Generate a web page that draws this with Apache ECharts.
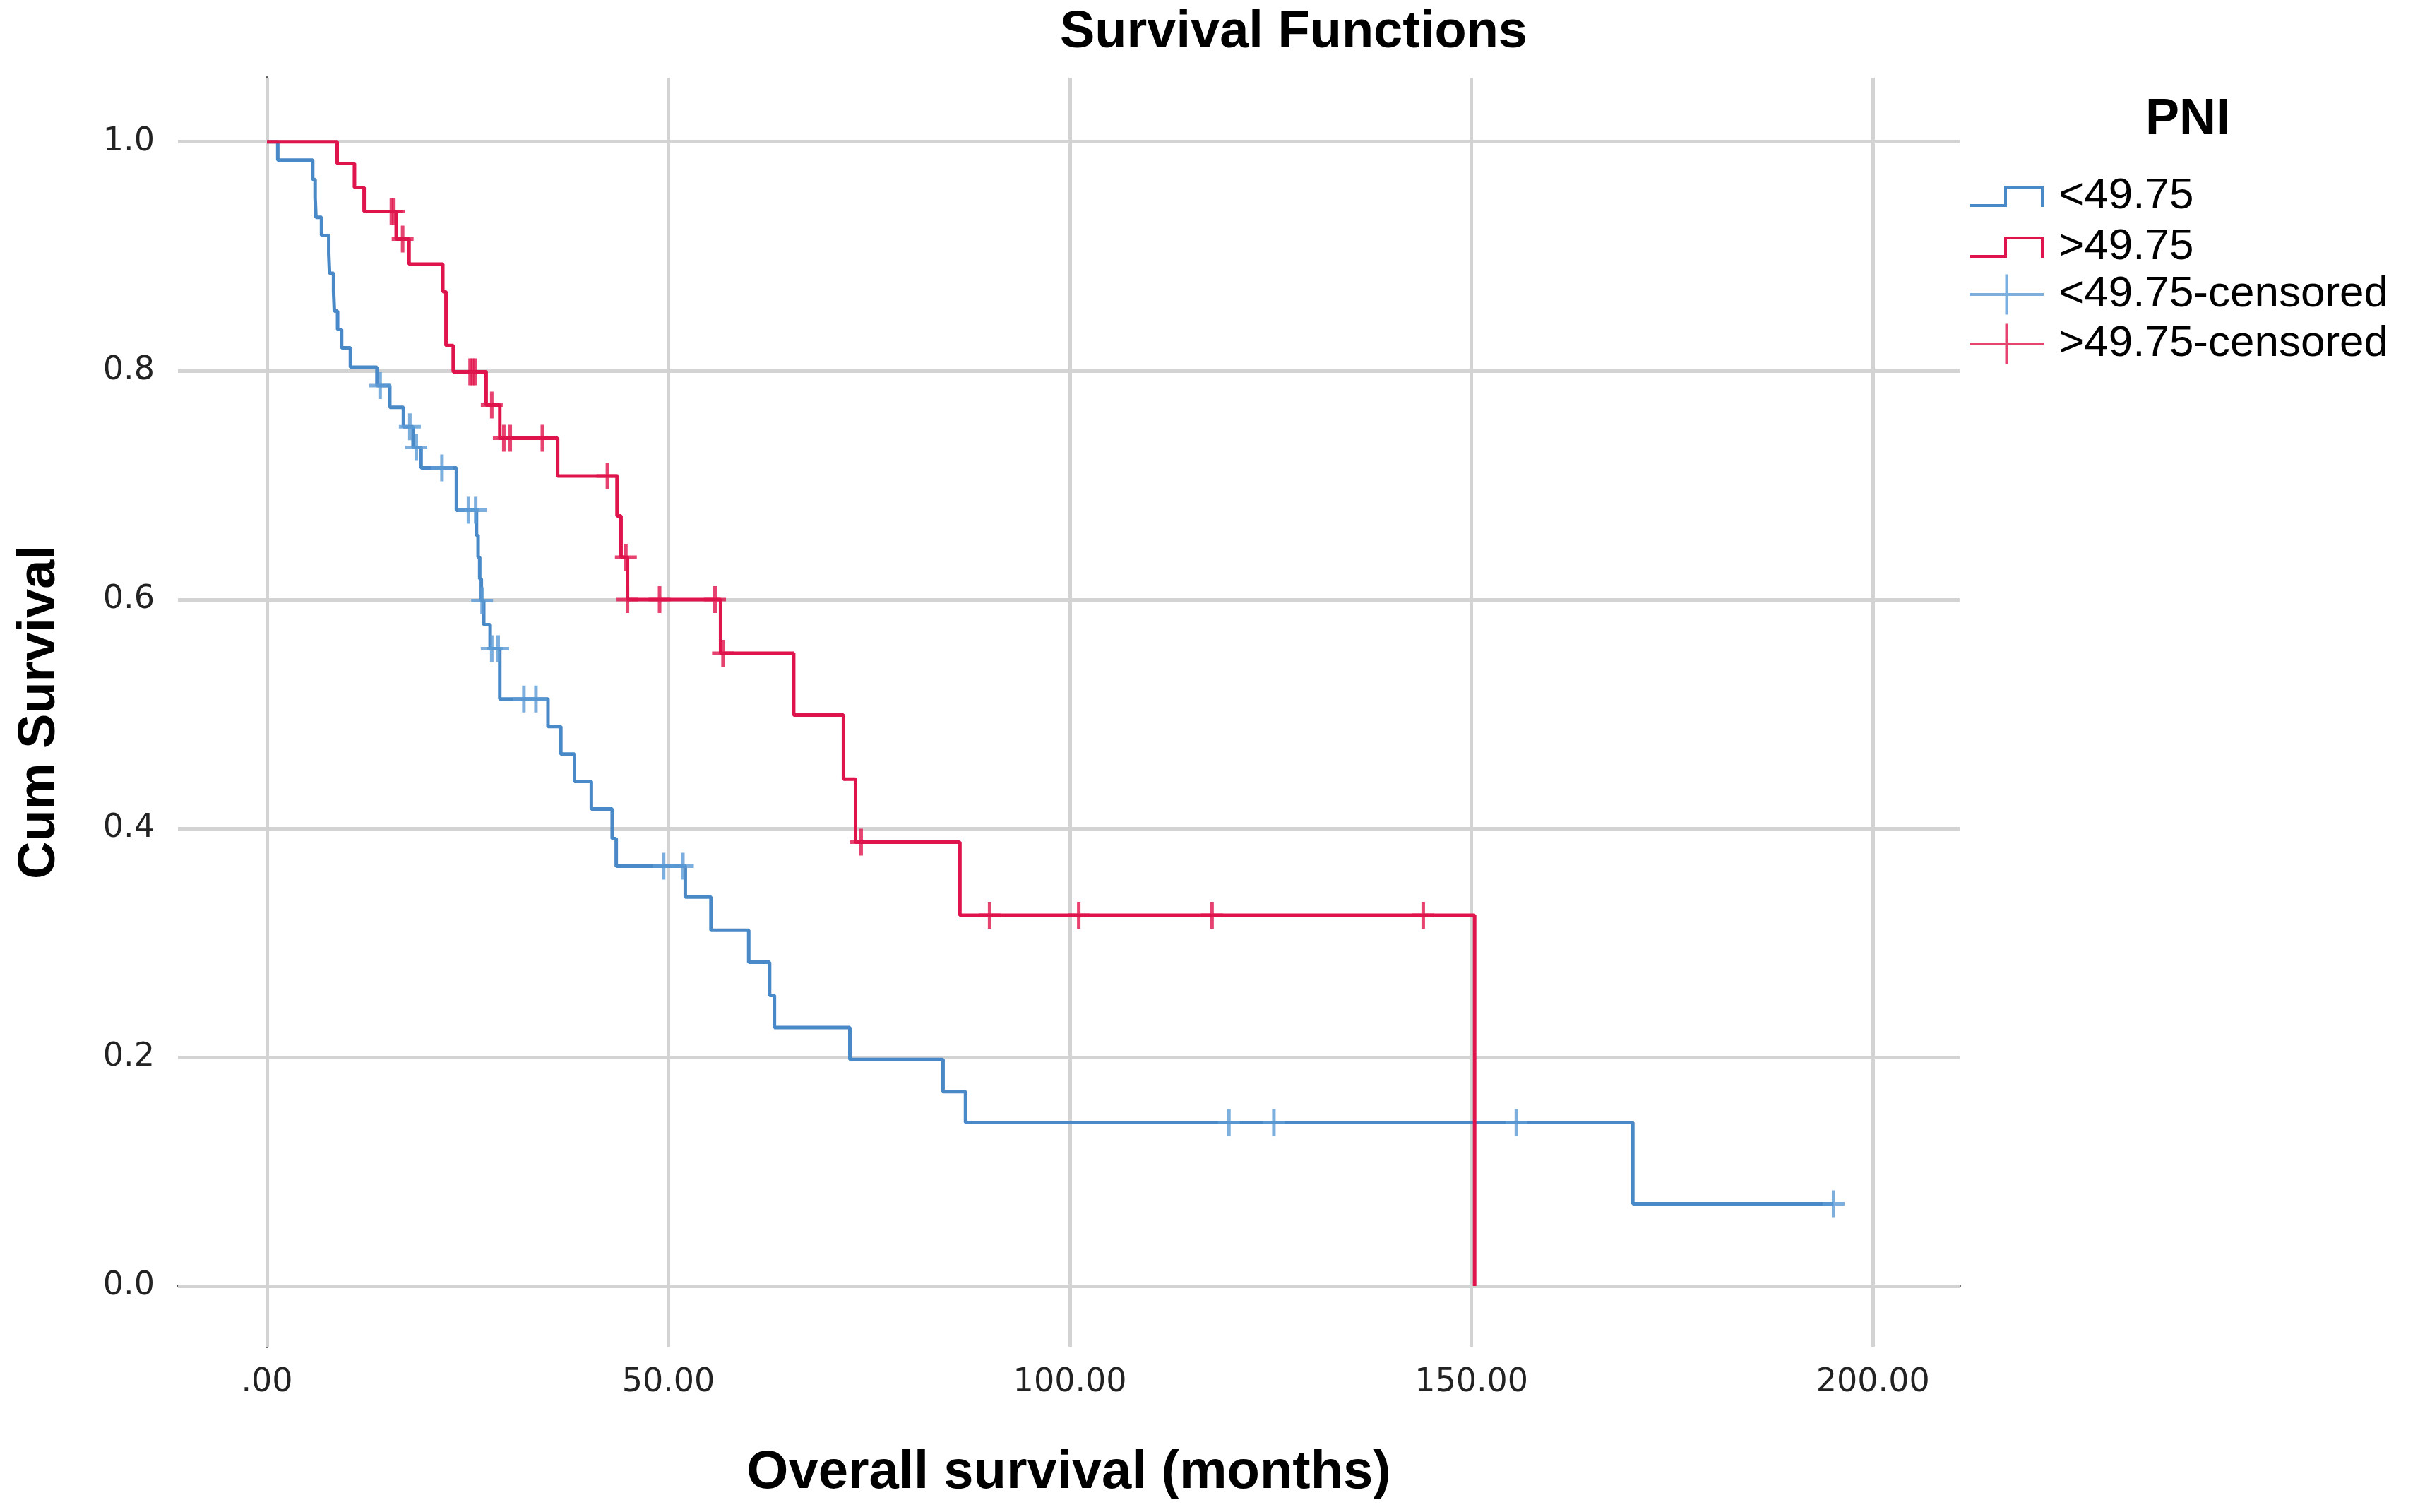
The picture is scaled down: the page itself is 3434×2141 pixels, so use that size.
<!DOCTYPE html>
<html>
<head>
<meta charset="utf-8">
<script src="https://cdn.jsdelivr.net/npm/echarts@6/dist/echarts.min.js"></script>
<style>
html,body{margin:0;padding:0;background:#fff;}
#chart{width:3434px;height:2141px;}
</style>
</head>
<body>
<div id="chart"></div>
<script>
// ---- data (months, cumulative survival) ----
const groupNames = ['<49.75', '>49.75', '<49.75-censored', '>49.75-censored'];

const blueTime = [0, 1.35, 5.7, 6.0, 6.1, 6.8, 7.7, 7.8, 8.3, 8.4, 8.8, 9.3, 10.4, 13.7, 15.3, 17.0, 18.2, 19.2, 23.6, 26.1, 26.3, 26.5, 26.7, 27.0, 27.8, 29.0, 35.0, 36.6, 38.3, 40.4, 43.0, 43.5, 52.1, 55.3, 60.0, 62.6, 63.2, 72.6, 84.2, 87.0, 170.1, 195.1];
const blueSurv = [1.0, 0.984, 0.967, 0.951, 0.934, 0.918, 0.902, 0.885, 0.869, 0.852, 0.836, 0.820, 0.803, 0.787, 0.768, 0.751, 0.733, 0.715, 0.678, 0.656, 0.637, 0.618, 0.599, 0.578, 0.557, 0.513, 0.489, 0.465, 0.441, 0.417, 0.391, 0.367, 0.340, 0.311, 0.283, 0.254, 0.226, 0.198, 0.170, 0.143, 0.072, 0.072];
const blueCensor = [14.1, 17.8, 18.6, 21.8, 25.1, 26.0, 26.8, 28.0, 28.8, 32.0, 33.5, 49.4, 51.8, 119.8, 125.4, 155.6, 195.1];

const redTime = [0, 8.75, 10.9, 12.1, 16.1, 17.7, 21.9, 22.3, 23.2, 27.3, 29.0, 36.2, 43.6, 44.1, 44.9, 56.5, 65.6, 71.8, 73.3, 86.3, 150.4];
const redSurv = [1.0, 0.981, 0.960, 0.939, 0.915, 0.893, 0.869, 0.822, 0.799, 0.770, 0.741, 0.708, 0.673, 0.637, 0.600, 0.553, 0.499, 0.443, 0.388, 0.324, 0.0];
const redCensor = [15.5, 15.8, 16.9, 25.3, 25.6, 25.9, 28.0, 29.5, 30.3, 34.3, 42.4, 44.7, 44.9, 48.9, 55.8, 56.8, 74.0, 90.0, 101.1, 117.7, 144.0];

const xTickValues = [0, 50, 100, 150, 200];
const xTickLabels = ['.00', '50.00', '100.00', '150.00', '200.00'];
const yTickValues = [0, 0.2, 0.4, 0.6, 0.8, 1.0];
const yTickLabels = ['0.0', '0.2', '0.4', '0.6', '0.8', '1.0'];

// ---- helpers ----
function survAt(times, surv, t) {
  let s = surv[0];
  for (let i = 0; i < times.length; i++) { if (times[i] <= t + 1e-9) s = surv[i]; }
  return s;
}
const blueLine = blueTime.map((t, i) => [t, blueSurv[i]]);
const redLine = redTime.map((t, i) => [t, redSurv[i]]);
const blueCens = blueCensor.map(t => [t, survAt(blueTime, blueSurv, t)]);
const redCens = redCensor.map(t => [t, survAt(redTime, redSurv, t)]);

const BLUE = '#4a89c8';
const BLUE_C = '#5b9bd5';
const RED = '#e0144c';
const FONT = 'Liberation Sans, Arial, sans-serif';
const TICKFONT = 'DejaVu Sans, sans-serif';

const plusPath = 'path://M13,0 H18 V16.5 H31 V21.5 H18 V38 H13 V21.5 H0 V16.5 H13 Z';
const stepIcon = 'path://M0,26 H49 V0 H105 V30 H101 V4 H53 V30 H0 Z';
const plusIcon = 'path://M0,26.5 H50.5 V0 H54.5 V26.5 H105 V30.5 H54.5 V57 H50.5 V30.5 H0 Z';

const gridMarks = xTickValues.map(v => ({ xAxis: v })).concat(yTickValues.map(v => ({ yAxis: v })));

const chart = echarts.init(document.getElementById('chart'));
chart.setOption({
  animation: false,
  backgroundColor: '#ffffff',
  title: [
    { text: 'Survival Functions', left: 1832, top: 10, textAlign: 'center', padding: 0,
      textStyle: { fontFamily: FONT, fontWeight: 'bold', fontSize: 74, color: '#000' } },
    { text: 'PNI', left: 3098, top: 134, textAlign: 'center', padding: 0,
      textStyle: { fontFamily: FONT, fontWeight: 'bold', fontSize: 72, color: '#000' } }
  ],
  legend: [
    { orient: 'vertical', left: 2789, top: 247, padding: 0, itemWidth: 105, itemHeight: 30, itemGap: 10,
      selectedMode: false, itemStyle: { borderWidth: 0 },
      data: [{ name: groupNames[0], icon: stepIcon }, { name: groupNames[1], icon: stepIcon }],
      textStyle: { fontFamily: FONT, fontSize: 62, color: '#000', padding: [0, 0, 0, 16] } },
    { orient: 'vertical', left: 2789, top: 386, padding: 0, itemWidth: 105, itemHeight: 57, itemGap: 8,
      selectedMode: false, itemStyle: { borderWidth: 0 },
      data: [{ name: groupNames[2], icon: plusIcon }, { name: groupNames[3], icon: plusIcon }],
      textStyle: { fontFamily: FONT, fontSize: 62, color: '#000', padding: [0, 0, 0, 16] } }
  ],
  grid: { left: 252, right: 659, top: 110, bottom: 234, containLabel: false },
  xAxis: {
    type: 'value', min: -11.08, max: 210.8,
    name: 'Overall survival (months)', nameLocation: 'middle', nameGap: 141,
    nameTextStyle: { fontFamily: FONT, fontWeight: 'bold', fontSize: 76, color: '#000' },
    axisLine: { show: true, lineStyle: { color: '#555', width: 4 } },
    axisTick: { show: false },
    splitLine: { show: false },
    axisLabel: {
      showMinLabel: false, showMaxLabel: false, margin: 28,
      fontFamily: TICKFONT, fontSize: 46, color: '#222',
      formatter: v => { const i = xTickValues.findIndex(x => Math.abs(x - v) < 1e-6); return i >= 0 ? xTickLabels[i] : ''; }
    }
  },
  yAxis: {
    type: 'value', min: -0.053, max: 1.056, splitNumber: 5,
    name: 'Cum Survival', nameLocation: 'middle', nameGap: 158,
    nameTextStyle: { fontFamily: FONT, fontWeight: 'bold', fontSize: 74, color: '#000' },
    axisLine: { show: true, lineStyle: { color: '#555', width: 4 } },
    axisTick: { show: false },
    splitLine: { show: false },
    axisLabel: {
      showMinLabel: false, showMaxLabel: false, margin: 33,
      fontFamily: TICKFONT, fontSize: 46, color: '#222',
      formatter: v => { const i = yTickValues.findIndex(y => Math.abs(y - v) < 1e-6); return i >= 0 ? yTickLabels[i] : ''; }
    }
  },
  series: [
    { name: 'grid', type: 'line', data: [[0, 1]], showSymbol: false, symbol: 'none', silent: true, z: 1,
      lineStyle: { width: 0 },
      markLine: { silent: true, symbol: ['none', 'none'], label: { show: false }, animation: false,
        lineStyle: { color: '#d3d3d3', width: 5, type: 'solid' }, data: gridMarks } },
    { name: groupNames[0], type: 'line', step: 'end', data: blueLine, showSymbol: false, symbol: 'none', z: 5,
      itemStyle: { color: BLUE }, lineStyle: { color: BLUE, width: 5 } },
    { name: groupNames[1], type: 'line', step: 'end', data: redLine, showSymbol: false, symbol: 'none', z: 6,
      itemStyle: { color: RED }, lineStyle: { color: RED, width: 5 } },
    { name: groupNames[2], type: 'scatter', data: blueCens, symbol: plusPath, symbolSize: [31, 38], z: 7,
      itemStyle: { color: BLUE_C, borderWidth: 0 } },
    { name: groupNames[3], type: 'scatter', data: redCens, symbol: plusPath, symbolSize: [31, 38], z: 8,
      itemStyle: { color: RED, borderWidth: 0 } }
  ]
});
</script>
</body>
</html>
